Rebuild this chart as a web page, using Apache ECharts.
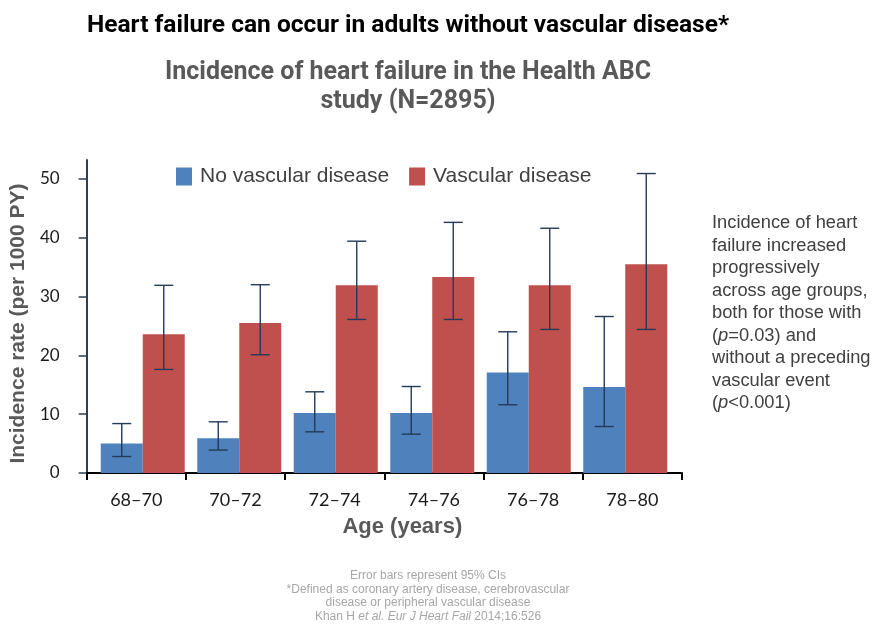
<!DOCTYPE html>
<html>
<head>
<meta charset="utf-8">
<script src="https://cdn.jsdelivr.net/npm/echarts@6/dist/echarts.min.js"></script>
<style>html,body{margin:0;padding:0;background:#fff;}#c{width:883px;height:626px;}</style>
</head>
<body>
<div id="c"></div>
<script>
// ---- data ----
var categories = ['68\u201370', '70\u201372', '72\u201374', '74\u201376', '76\u201378', '78\u201380'];
var seriesNames = ['No vascular disease', 'Vascular disease'];
var noVasc = [5.0, 5.9, 10.2, 10.2, 17.1, 14.6];
var noVascLow = [2.8, 3.9, 7.0, 6.6, 11.6, 7.9];
var noVascHigh = [8.4, 8.7, 13.8, 14.7, 24.0, 26.6];
var vasc = [23.6, 25.5, 31.9, 33.3, 31.9, 35.5];
var vascLow = [17.6, 20.1, 26.1, 26.1, 24.4, 24.4];
var vascHigh = [31.9, 32.0, 39.4, 42.6, 41.6, 50.9];
var yTicks = [0, 10, 20, 30, 40, 50];
var yMax = 53.2;

// ---- layout / style ----
var BLUE = '#4f81bd', RED = '#c0504d', ERR = '#243a58';
var BAR_W = 42;
var grey = '#595959';

function errSeries(low, high, sign) {
  return {
    type: 'custom', xAxisIndex: 1, yAxisIndex: 1, z: 5,
    data: categories.map(function (c, i) { return [i, low[i], high[i]]; }),
    renderItem: function (params, api) {
      var i = api.value(0);
      var lo = api.coord([i, api.value(1)]);
      var hi = api.coord([i, api.value(2)]);
      var x = lo[0] + sign * BAR_W / 2;
      var cap = 9.5;
      var st = { stroke: ERR, lineWidth: 1.4 };
      return {
        type: 'group', children: [
          { type: 'line', shape: { x1: x, y1: lo[1], x2: x, y2: hi[1] }, style: st },
          { type: 'line', shape: { x1: x - cap, y1: hi[1], x2: x + cap, y2: hi[1] }, style: st },
          { type: 'line', shape: { x1: x - cap, y1: lo[1], x2: x + cap, y2: lo[1] }, style: st }
        ]
      };
    }
  };
}

var chart = echarts.init(document.getElementById('c'));
chart.setOption({
  animation: false,
  backgroundColor: '#ffffff',
  title: [
    { text: 'Heart failure can occur in adults without vascular disease*', left: 408, top: 13, textAlign: 'center', padding: 0,
      textStyle: { fontFamily: 'Liberation Sans Narrow, Arial Narrow, Roboto, sans-serif', fontWeight: 'bold', fontSize: 24.5, color: '#000' } },
    { text: 'Incidence of heart failure in the Health ABC\nstudy (N=2895)', left: 408, top: 58, textAlign: 'center', padding: 0,
      textStyle: { fontFamily: 'Liberation Sans Narrow, Arial Narrow, Roboto, sans-serif', fontWeight: 'bold', fontSize: 25, color: grey, lineHeight: 29 } },
    { text: 'Incidence of heart\nfailure increased\nprogressively\nacross age groups,\nboth for those with\n({i|p}=0.03) and\nwithout a preceding\nvascular event\n({i|p}<0.001)',
      left: 712, top: 212, padding: 0,
      textStyle: { fontFamily: 'Liberation Sans, Arial, sans-serif', fontSize: 18.3, color: '#404040', lineHeight: 22.5, fontWeight: 'normal',
        rich: { i: { fontStyle: 'italic', fontFamily: 'Liberation Sans, Arial, sans-serif', fontSize: 18.3, color: '#404040', lineHeight: 22.5 } } } },
    { text: 'Error bars represent 95% CIs\n*Defined as coronary artery disease, cerebrovascular\ndisease or peripheral vascular disease\nKhan H {i|et al. Eur J Heart Fail} 2014;16:526',
      left: 428, top: 569, textAlign: 'center', padding: 0,
      textStyle: { fontFamily: 'Liberation Sans, Arial, sans-serif', fontSize: 12, color: '#a6a6a6', lineHeight: 13.5, fontWeight: 'normal',
        rich: { i: { fontStyle: 'italic', fontFamily: 'Liberation Sans, Arial, sans-serif', fontSize: 12, color: '#a6a6a6', lineHeight: 13.5 } } } }
  ],
  legend: {
    left: 176, top: 166, itemWidth: 16, itemHeight: 18, itemGap: 20, padding: 0,
    data: seriesNames,
    icon: 'rect',
    textStyle: { fontFamily: 'Liberation Sans, Arial, sans-serif', fontSize: 21, color: '#404040', padding: [0, 0, 0, 3] }
  },
  grid: [
    { left: 84, right: 201, top: 160, bottom: 153 },
    { left: 94.5, right: 209.5, top: 160, bottom: 153 }
  ],
  xAxis: [
    { type: 'category', gridIndex: 0, data: categories, boundaryGap: true,
      axisLine: { lineStyle: { color: '#000', width: 2 } },
      axisTick: { show: true, interval: 0, length: 7, lineStyle: { color: '#000', width: 2 } },
      axisLabel: { margin: 18, fontFamily: 'Lato, Open Sans, sans-serif', fontSize: 18, color: '#1a1a1a', interval: 0 },
      name: 'Age (years)', nameLocation: 'middle', nameGap: 43,
      nameTextStyle: { fontFamily: 'Liberation Sans, Arial, sans-serif', fontWeight: 'bold', fontSize: 22, color: grey, padding: [0, 0, 0, 36] } },
    { type: 'category', gridIndex: 1, data: categories, show: false }
  ],
  yAxis: [
    { type: 'value', gridIndex: 0, min: 0, max: yMax, interval: 10,
      axisLine: { show: true, lineStyle: { color: '#2f3e52', width: 2 } },
      axisTick: { show: true, length: 8, customValues: yTicks, lineStyle: { color: '#2f3e52', width: 1.5 } },
      axisLabel: { customValues: yTicks, margin: 27, fontFamily: 'Lato, Open Sans, sans-serif', fontSize: 17, color: '#1a1a1a' },
      splitLine: { show: false },
      name: 'Incidence rate (per 1000 PY)', nameLocation: 'middle', nameGap: 47,
      nameTextStyle: { fontFamily: 'Liberation Sans, Arial, sans-serif', fontWeight: 'bold', fontSize: 21, color: grey, padding: [0, 14, 0, 0] } },
    { type: 'value', gridIndex: 1, min: 0, max: yMax, show: false, splitLine: { show: false } }
  ],
  series: [
    { name: seriesNames[0], type: 'bar', xAxisIndex: 1, yAxisIndex: 1, data: noVasc, barWidth: BAR_W, barGap: '0%', itemStyle: { color: BLUE } },
    { name: seriesNames[1], type: 'bar', xAxisIndex: 1, yAxisIndex: 1, data: vasc, barWidth: BAR_W, barGap: '0%', itemStyle: { color: RED } },
    errSeries(noVascLow, noVascHigh, -1),
    errSeries(vascLow, vascHigh, 1)
  ]
});
</script>
</body>
</html>
